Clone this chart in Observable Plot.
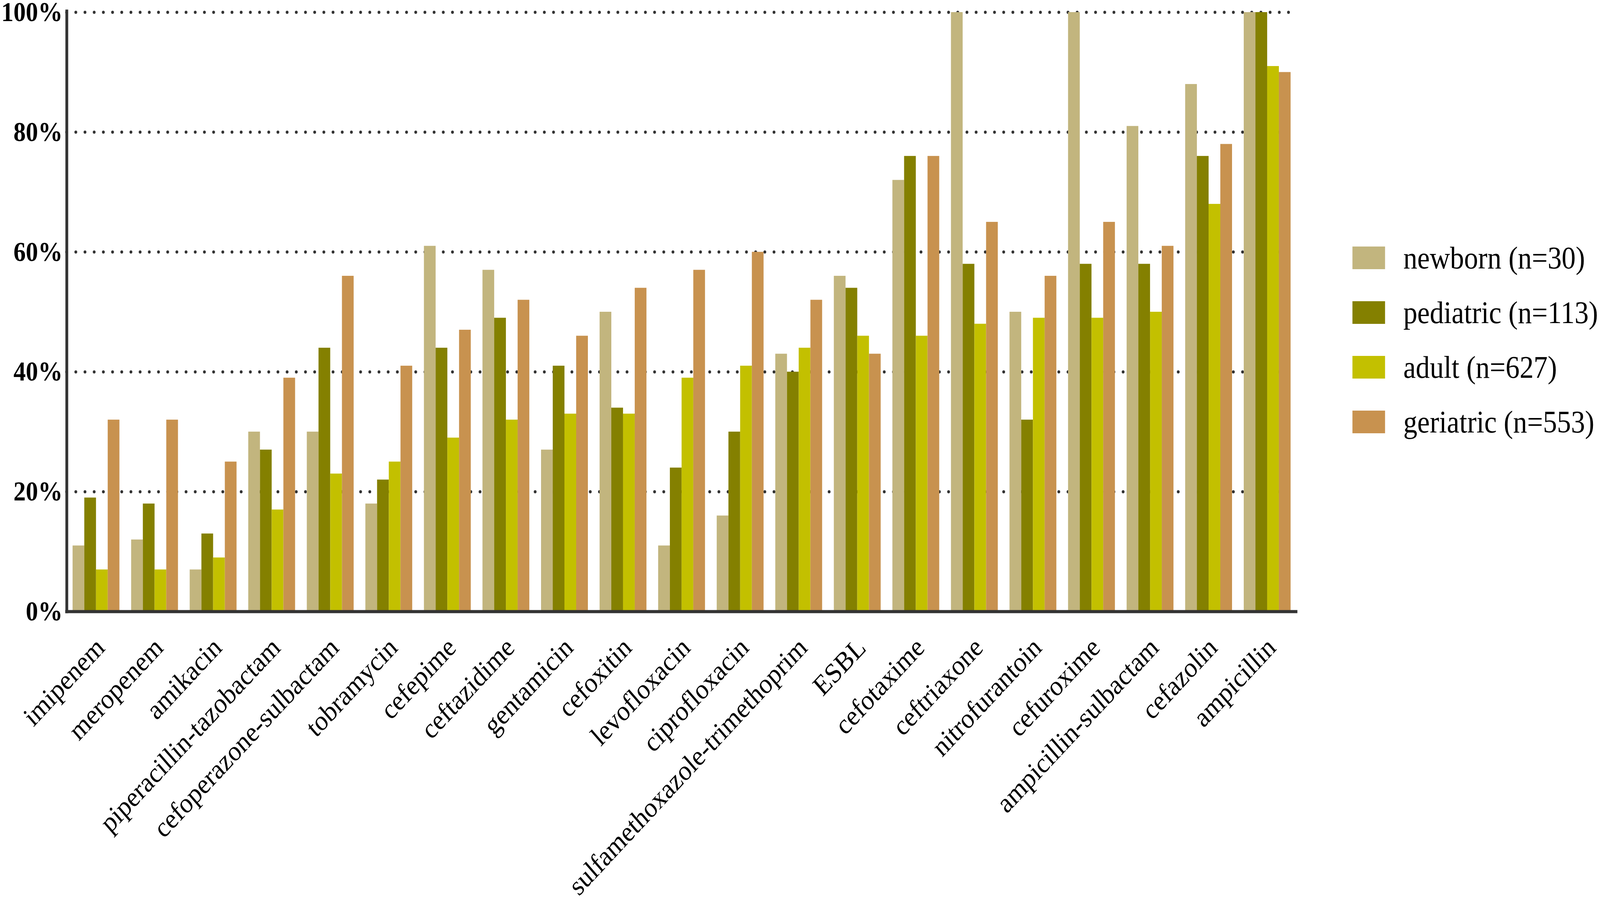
<!DOCTYPE html>
<html>
<head>
<meta charset="utf-8">
<script src="https://cdn.jsdelivr.net/npm/d3@7"></script>
<script src="https://cdn.jsdelivr.net/npm/@observablehq/plot@0.6"></script>
<style>
  html, body { margin: 0; padding: 0; background: #fff; overflow: hidden; }
  #wrap { position: absolute; left: 0; top: 0; width: 4563px; height: 2296px; overflow: hidden; background: #fff; transform-origin: 0 0; }
  #wrap svg { display: block; }
  #legend { position: absolute; left: 3857px; top: 631px; font-family: 'Liberation Serif', 'Times New Roman', serif; font-size: 80px; color: #000; }
  .item { display: flex; align-items: center; height: 58px; margin-bottom: 82px; }
  .sw { width: 93px; height: 58px; flex: none; }
  .lab { margin-left: 52px; white-space: nowrap; line-height: 1; }
</style>
</head>
<body>
<div id="wrap"></div>
<script>
// ---- data ----
const drugs = [
  "imipenem", "meropenem", "amikacin", "piperacillin-tazobactam", "cefoperazone-sulbactam",
  "tobramycin", "cefepime", "ceftazidime", "gentamicin", "cefoxitin", "levofloxacin",
  "ciprofloxacin", "sulfamethoxazole-trimethoprim", "ESBL", "cefotaxime", "ceftriaxone",
  "nitrofurantoin", "cefuroxime", "ampicillin-sulbactam", "cefazolin", "ampicillin"
];
const newborn   = [11, 12,  7, 30, 30, 18, 61, 57, 27, 50, 11, 16, 43, 56, 72, 100, 50, 100, 81, 88, 100];
const pediatric = [19, 18, 13, 27, 44, 22, 44, 49, 41, 34, 24, 30, 40, 54, 76,  58, 32,  58, 58, 76, 100];
const adult     = [ 7,  7,  9, 17, 23, 25, 29, 32, 33, 33, 39, 41, 44, 46, 46,  48, 49,  49, 50, 68,  91];
const geriatric = [32, 32, 25, 39, 56, 41, 47, 52, 46, 54, 57, 60, 52, 43, 76,  65, 56,  65, 61, 78,  90];
const groups = ["newborn", "pediatric", "adult", "geriatric"];
const groupLabels = ["newborn (n=30)", "pediatric (n=113)", "adult (n=627)", "geriatric (n=553)"];
const groupColors = ["#C2B57E", "#848000", "#C3C000", "#C8924F"];
const yTicks = [0, 20, 40, 60, 80, 100];

const series = [newborn, pediatric, adult, geriatric];
const data = drugs.flatMap((d, i) => groups.map((g, j) => ({drug: d, group: g, value: series[j][i]})));

// ---- layout ----
const W = 4563, H = 2296;
const mL = 190, mR = 880, mT = 31, mB = 731;
const pInner = 0.2, pOuter = 0.058, align = 0.876;
const step = (W - mL - mR) / (drugs.length - pInner + 2 * pOuter);
const q = step * (1 - pInner) / groups.length;
const font = "'Liberation Serif', 'Times New Roman', serif";

const chart = Plot.plot({
  width: W,
  height: H,
  marginLeft: mL,
  marginRight: mR,
  marginTop: mT,
  marginBottom: mB,
  style: {fontFamily: font, background: "white", color: "black", maxWidth: "none"},
  x: {type: "band", domain: drugs, paddingInner: pInner, paddingOuter: pOuter, align, round: false, label: null},
  y: {domain: [0, 100], label: null},
  marks: [
    Plot.ruleY(yTicks.filter(t => t > 0), {stroke: "#333", strokeWidth: 8, strokeDasharray: "0 26.2", strokeLinecap: "round"}),
    ...groups.map((g, j) => Plot.barY(data.filter(d => d.group === g), {
      x: "drug", y: "value", fill: groupColors[j],
      insetLeft: j * q, insetRight: (groups.length - 1 - j) * q
    })),
    Plot.ruleY([0], {stroke: "#333", strokeWidth: 8, insetLeft: -4, insetRight: -17}),
    Plot.frame({anchor: "left", stroke: "#333", strokeWidth: 8, insetTop: -3}),
    Plot.axisY({ticks: yTicks, tickSize: 0, tickPadding: 12, tickFormat: d => d + "%", fontSize: 70, fontWeight: "bold", label: null}),
    Plot.axisX({tickRotate: -44, tickSize: 0, tickPadding: 80, dx: 12, fontSize: 72, textAnchor: "end", lineAnchor: "middle", label: null})
  ]
});

const wrap = document.getElementById("wrap");
wrap.appendChild(chart);

// legend
const legend = document.createElement("div");
legend.id = "legend";
groups.forEach((g, j) => {
  const item = document.createElement("div");
  item.className = "item";
  const sw = document.createElement("div");
  sw.className = "sw";
  sw.style.background = groupColors[j];
  const lab = document.createElement("div");
  lab.className = "lab";
  lab.textContent = groupLabels[j];
  item.appendChild(sw);
  item.appendChild(lab);
  legend.appendChild(item);
});
wrap.appendChild(legend);

// fit the 4563x2296 drawing to the viewport the page is actually given
function fit() {
  const sx = window.innerWidth / W, sy = window.innerHeight / H;
  wrap.style.transform = `scale(${sx}, ${sy})`;
}
fit();
window.addEventListener("resize", fit);
</script>
</body>
</html>
